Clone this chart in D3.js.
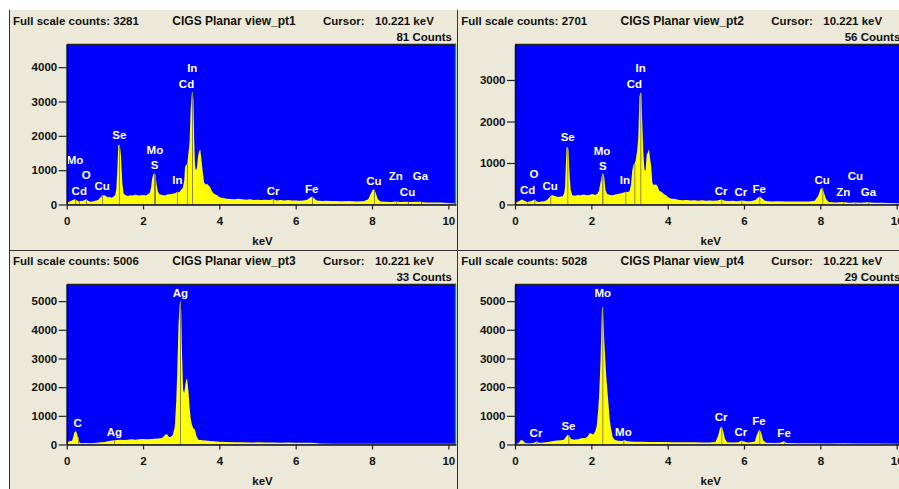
<!DOCTYPE html>
<html>
<head>
<meta charset="utf-8">
<script src="https://cdn.jsdelivr.net/npm/d3@7"></script>
<style>
  body { margin: 0; background: #fff; }
  svg { display: block; }
  text { font-family: "Liberation Sans", Arial, sans-serif; font-weight: bold; }
</style>
</head>
<body>
<svg width="899" height="489"></svg>
<script>
// ---- data ----
const kevTicks = [0, 2, 4, 6, 8, 10];
const spectrumNames = ["CIGS Planar view_pt1", "CIGS Planar view_pt2", "CIGS Planar view_pt3", "CIGS Planar view_pt4"];
const fullScale = [3281, 2701, 5006, 5028];
const cursorKev = "10.221";
const cursorCounts = [81, 56, 33, 29];
const countTicks = [
  [0, 1000, 2000, 3000, 4000],
  [0, 1000, 2000, 3000],
  [0, 1000, 2000, 3000, 4000, 5000],
  [0, 1000, 2000, 3000, 4000, 5000]
];
const countMax = [4660, 3855, 5580, 5580];

// [keV, counts]
const spectrum1 = [[0,0],[0.03,60],[0.08,90],[0.12,110],[0.17,140],[0.22,150],[0.27,120],[0.32,90],[0.37,110],[0.42,100],[0.47,130],[0.52,150],[0.56,110],[0.62,80],[0.68,90],[0.75,110],[0.82,130],[0.88,200],[0.93,260],[0.98,280],[1.03,240],[1.08,210],[1.13,220],[1.18,200],[1.23,230],[1.27,280],[1.30,450],[1.33,1100],[1.35,1720],[1.38,1740],[1.40,1650],[1.42,1440],[1.44,1000],[1.46,600],[1.49,330],[1.53,280],[1.60,250],[1.67,270],[1.74,260],[1.80,290],[1.87,260],[1.94,270],[2.00,280],[2.07,260],[2.13,300],[2.18,340],[2.21,500],[2.24,760],[2.27,890],[2.30,900],[2.33,820],[2.36,560],[2.39,380],[2.43,300],[2.50,280],[2.57,260],[2.63,290],[2.70,300],[2.77,310],[2.84,330],[2.90,370],[2.95,360],[2.99,420],[3.04,480],[3.08,700],[3.10,1100],[3.13,1150],[3.16,1170],[3.19,1500],[3.22,1830],[3.25,2800],[3.28,3250],[3.30,3280],[3.32,3050],[3.34,1900],[3.36,1200],[3.38,1000],[3.41,1050],[3.44,1400],[3.47,1550],[3.50,1600],[3.53,1300],[3.56,1000],[3.60,640],[3.64,580],[3.68,600],[3.72,550],[3.76,500],[3.80,400],[3.85,320],[3.90,290],[3.95,260],[4.00,210],[4.1,190],[4.2,170],[4.3,160],[4.4,150],[4.5,170],[4.6,150],[4.7,140],[4.8,150],[4.9,130],[5.0,140],[5.1,130],[5.2,140],[5.3,130],[5.41,150],[5.5,120],[5.6,130],[5.7,120],[5.8,130],[5.9,120],[6.0,120],[6.1,110],[6.2,120],[6.3,140],[6.37,200],[6.42,230],[6.47,190],[6.55,120],[6.7,100],[6.8,110],[6.9,100],[7.0,100],[7.2,95],[7.4,100],[7.6,90],[7.8,100],[7.9,150],[7.96,300],[8.02,430],[8.06,440],[8.10,330],[8.15,160],[8.22,90],[8.35,80],[8.5,70],[8.63,90],[8.75,70],[8.9,80],[9.0,70],[9.24,80],[9.4,60],[9.6,60],[9.8,55],[10.0,45],[10.2,30]];
const spectrum2 = [[0,0],[0.03,50],[0.08,70],[0.13,90],[0.17,120],[0.22,100],[0.27,80],[0.32,60],[0.37,70],[0.42,80],[0.47,100],[0.52,120],[0.56,80],[0.62,60],[0.70,70],[0.78,80],[0.85,120],[0.92,190],[0.97,230],[1.02,210],[1.08,190],[1.14,180],[1.20,190],[1.25,200],[1.29,280],[1.31,430],[1.33,900],[1.35,1380],[1.38,1380],[1.40,1320],[1.42,900],[1.44,600],[1.46,350],[1.50,220],[1.57,210],[1.65,230],[1.72,220],[1.80,240],[1.88,220],[1.95,230],[2.02,250],[2.10,230],[2.16,260],[2.20,330],[2.23,480],[2.26,620],[2.29,740],[2.31,750],[2.34,650],[2.37,350],[2.41,260],[2.48,230],[2.56,220],[2.63,240],[2.70,250],[2.78,270],[2.85,290],[2.90,310],[2.96,300],[3.00,320],[3.04,480],[3.07,800],[3.10,950],[3.13,980],[3.16,1050],[3.20,1300],[3.23,1600],[3.26,2600],[3.29,2700],[3.31,2650],[3.33,2100],[3.36,1300],[3.39,850],[3.42,800],[3.45,1200],[3.48,1250],[3.51,1330],[3.54,1100],[3.57,900],[3.60,520],[3.64,470],[3.69,480],[3.73,450],[3.78,330],[3.84,300],[3.90,250],[3.96,220],[4.02,170],[4.1,140],[4.2,130],[4.3,110],[4.4,100],[4.5,110],[4.6,95],[4.7,100],[4.8,90],[4.9,100],[5.0,90],[5.1,95],[5.2,90],[5.3,95],[5.41,120],[5.5,90],[5.6,85],[5.7,90],[5.8,80],[5.95,95],[6.1,80],[6.2,85],[6.3,110],[6.37,170],[6.42,190],[6.47,150],[6.55,90],[6.7,75],[6.9,80],[7.1,70],[7.3,75],[7.5,70],[7.7,70],[7.85,90],[7.94,200],[8.01,380],[8.05,400],[8.09,300],[8.15,130],[8.22,60],[8.4,50],[8.6,60],[8.75,45],[8.9,50],[9.05,40],[9.24,55],[9.4,40],[9.6,40],[9.8,35],[10.0,30],[10.2,25]];
const spectrum3 = [[0,0],[0.04,100],[0.10,120],[0.14,130],[0.17,250],[0.20,420],[0.24,470],[0.27,380],[0.30,200],[0.34,60],[0.40,40],[0.5,50],[0.6,40],[0.7,50],[0.8,60],[0.9,80],[1.0,90],[1.1,120],[1.2,140],[1.3,160],[1.4,170],[1.5,160],[1.6,170],[1.7,180],[1.8,170],[1.9,180],[2.0,190],[2.1,180],[2.2,190],[2.3,200],[2.4,210],[2.5,230],[2.55,300],[2.60,370],[2.64,340],[2.68,260],[2.73,270],[2.78,330],[2.83,600],[2.87,1500],[2.90,2700],[2.93,4200],[2.96,4900],[2.98,5000],[3.00,4700],[3.02,3300],[3.05,1900],[3.08,1800],[3.11,2100],[3.14,2300],[3.16,2250],[3.19,1850],[3.22,1300],[3.25,900],[3.28,700],[3.32,560],[3.36,520],[3.40,300],[3.45,170],[3.55,150],[3.7,130],[3.85,110],[4.0,100],[4.2,90],[4.4,80],[4.6,80],[4.8,70],[5.0,75],[5.2,70],[5.4,70],[5.6,65],[5.8,70],[6.0,65],[6.2,60],[6.4,60],[6.55,55],[6.6,35],[7.0,30],[7.5,30],[8.0,30],[8.5,30],[9.0,30],[9.5,30],[10.0,30],[10.2,30]];
const spectrum4 = [[0,0],[0.05,30],[0.10,60],[0.14,130],[0.17,170],[0.21,130],[0.26,60],[0.32,40],[0.40,45],[0.50,60],[0.57,110],[0.62,60],[0.70,60],[0.80,80],[0.90,100],[1.00,120],[1.10,140],[1.20,150],[1.28,170],[1.33,250],[1.38,350],[1.42,300],[1.47,190],[1.55,170],[1.65,180],[1.72,210],[1.78,230],[1.84,220],[1.90,280],[1.96,400],[2.00,380],[2.05,350],[2.10,450],[2.14,640],[2.18,1200],[2.21,1900],[2.24,2900],[2.26,4000],[2.28,4750],[2.30,4800],[2.32,4200],[2.34,3600],[2.36,3100],[2.39,2400],[2.42,1900],[2.45,1400],[2.48,900],[2.51,600],[2.56,250],[2.62,160],[2.70,130],[2.80,120],[2.87,150],[2.95,110],[3.1,100],[3.3,95],[3.5,90],[3.7,90],[3.9,85],[4.1,80],[4.3,80],[4.5,75],[4.7,80],[4.9,70],[5.1,70],[5.25,90],[5.32,300],[5.37,560],[5.41,640],[5.45,500],[5.50,200],[5.56,80],[5.7,70],[5.85,80],[5.93,140],[5.98,110],[6.1,70],[6.28,100],[6.34,350],[6.40,520],[6.45,420],[6.50,150],[6.58,60],[6.8,50],[6.95,60],[7.05,110],[7.12,50],[7.4,40],[7.8,40],[8.2,35],[8.6,40],[9.0,35],[9.5,35],[10.0,30],[10.2,30]];

// element labels: [symbol, line keV, label level in counts]
const labels1 = [["Mo",0.22,1290],["O",0.51,855],["Cd",0.33,400],["Cu",0.93,545],["Se",1.38,2020],["Mo",2.31,1605],["S",2.30,1145],["In",2.90,730],["In",3.29,3970],["Cd",3.14,3510],["Cr",5.41,400],["Fe",6.42,465],["Cu",8.05,680],["Zn",8.62,825],["Ga",9.27,825],["Cu",8.93,370]];
const labels2 = [["Cd",0.33,360],["O",0.50,730],["Cu",0.92,440],["Se",1.38,1630],["Mo",2.28,1295],["S",2.30,925],["In",2.88,585],["In",3.29,3285],["Cd",3.13,2905],["Cr",5.40,330],["Cr",5.92,305],["Fe",6.40,370],["Cu",8.05,605],["Zn",8.60,305],["Cu",8.92,685],["Ga",9.26,305]];
const labels3 = [["C",0.29,750],["Ag",1.25,430],["Ag",2.98,5290]];
const labels4 = [["Cr",0.55,405],["Se",1.40,635],["Mo",2.30,5300],["Mo",2.84,430],["Cr",5.40,950],["Cr",5.92,430],["Fe",6.39,835],["Fe",7.05,390]];

const spectra = [spectrum1, spectrum2, spectrum3, spectrum4];
const labelSets = [labels1, labels2, labels3, labels4];

// ---- layout ----
const svg = d3.select("svg");
const panelW = 448.3, panelH = 240;
const origin = [[9, 10], [457.3, 10], [9, 250], [457.3, 250]];
const plot = {left: 57.7, top: 34.5, right: 447, bottom: 194.5};

svg.append("rect").attr("x", 9).attr("y", 10).attr("width", 890).attr("height", 479).attr("fill", "#ECE9D8");

function drawPanel(i) {
  const g = svg.append("g").attr("transform", "translate(" + origin[i][0] + "," + origin[i][1] + ")");
  const x = d3.scaleLinear().domain([0, 10.2]).range([plot.left, plot.right]);
  const y = d3.scaleLinear().domain([0, countMax[i]]).range([plot.bottom, plot.top]);

  // header
  g.append("text").attr("x", 4).attr("y", 15).attr("font-size", "11.5px").attr("fill", "#111")
    .text("Full scale counts: " + fullScale[i]);
  g.append("text").attr("x", 225).attr("y", 15).attr("font-size", "12px").attr("fill", "#111")
    .attr("text-anchor", "middle").text(spectrumNames[i]);
  g.append("text").attr("x", 314).attr("y", 15).attr("font-size", "11.5px").attr("fill", "#111").text("Cursor:");
  g.append("text").attr("x", 366).attr("y", 15).attr("font-size", "11.5px").attr("fill", "#111").text(cursorKev + " keV");
  g.append("text").attr("x", 443).attr("y", 31).attr("font-size", "11.5px").attr("fill", "#111")
    .attr("text-anchor", "end").text(cursorCounts[i] + " Counts");

  const clipId = "clip" + i;
  g.append("clipPath").attr("id", clipId).append("rect")
    .attr("x", plot.left).attr("y", plot.top).attr("width", plot.right - plot.left).attr("height", plot.bottom - plot.top);

  g.append("rect").attr("x", plot.left).attr("y", plot.top)
    .attr("width", plot.right - plot.left).attr("height", plot.bottom - plot.top).attr("fill", "#0000FF");

  const data = spectra[i];
  const area = d3.area().x(d => x(d[0])).y0(y(0)).y1(d => y(d[1]));
  g.append("path").datum(data).attr("clip-path", "url(#" + clipId + ")")
    .attr("d", area).attr("fill", "#FFFF00");

  // element marker lines inside the peaks
  const bis = d3.bisector(d => d[0]).left;
  function countsAt(k) {
    const j = Math.max(1, Math.min(data.length - 1, bis(data, k)));
    const a = data[j - 1], b = data[j];
    return a[1] + (b[1] - a[1]) * (k - a[0]) / (b[0] - a[0]);
  }
  const lineKev = Array.from(new Set(labelSets[i].map(d => d[1])));
  g.append("g").attr("clip-path", "url(#" + clipId + ")")
    .selectAll("line").data(lineKev).enter().append("line")
    .attr("x1", d => Math.round(x(d)) + 0.5).attr("x2", d => Math.round(x(d)) + 0.5)
    .attr("y1", y(0)).attr("y2", d => y(countsAt(d)))
    .attr("stroke", "#8a8a48").attr("stroke-width", 1);

  // element labels
  g.selectAll(".el").data(labelSets[i]).enter().append("text")
    .attr("class", "el")
    .attr("x", d => x(d[1])).attr("y", d => y(d[2]))
    .attr("dy", "0.36em").attr("text-anchor", "middle")
    .attr("font-size", "11.5px").attr("fill", "#fff")
    .text(d => d[0]);

  // frame
  g.append("line").attr("x1", plot.left).attr("x2", plot.right).attr("y1", plot.top).attr("y2", plot.top)
    .attr("stroke", "#222").attr("stroke-width", 1.5);
  g.append("line").attr("x1", plot.right - 0.5).attr("x2", plot.right - 0.5).attr("y1", plot.top).attr("y2", plot.bottom)
    .attr("stroke", "#00B000").attr("stroke-width", 1.5);

  const xAxis = g.append("g").attr("transform", "translate(0," + plot.bottom + ")")
    .call(d3.axisBottom(x).tickValues(kevTicks).tickSize(5).tickPadding(7).tickSizeOuter(0));
  const yAxis = g.append("g").attr("transform", "translate(" + plot.left + ",0)")
    .call(d3.axisLeft(y).tickValues(countTicks[i]).tickSize(8).tickPadding(1.5).tickSizeOuter(0).tickFormat(d3.format("d")));
  [xAxis, yAxis].forEach(a => {
    a.select(".domain").attr("stroke", "#111").attr("stroke-width", 1.5);
    a.selectAll(".tick line").attr("stroke", "#222").attr("stroke-width", 1.2);
    a.selectAll(".tick text").attr("font-size", "11.5px").attr("fill", "#111")
      .attr("font-family", "'Liberation Sans', Arial, sans-serif").attr("font-weight", "bold");
  });

  g.append("text").attr("x", 253.5).attr("y", 235).attr("font-size", "11.5px").attr("fill", "#111")
    .attr("text-anchor", "middle").text("keV");
}

[0, 1, 2, 3].forEach(drawPanel);

// panel borders
svg.append("line").attr("x1", 9.5).attr("x2", 9.5).attr("y1", 10).attr("y2", 489).attr("stroke", "#333");
svg.append("line").attr("x1", 457.5).attr("x2", 457.5).attr("y1", 10).attr("y2", 489).attr("stroke", "#333");
svg.append("line").attr("x1", 9).attr("x2", 899).attr("y1", 250.5).attr("y2", 250.5).attr("stroke", "#333");
</script>
</body>
</html>
